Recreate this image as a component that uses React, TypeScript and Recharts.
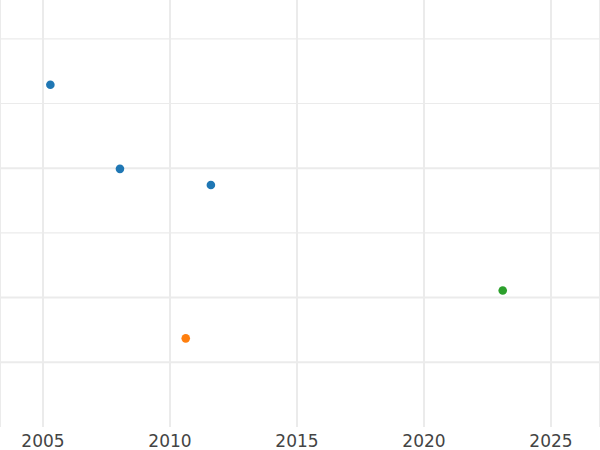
import React from "react";
import { ScatterChart, Scatter, XAxis, YAxis, CartesianGrid, ReferenceLine } from "recharts";

const blueYears = [2005.29, 2008.03, 2011.61];
const blueValues = [5.29, 3.99, 3.74];
const orangeYears = [2010.62];
const orangeValues = [1.37];
const greenYears = [2023.1];
const greenValues = [2.11];
const xTicks = [2005, 2010, 2015, 2020, 2025];
const yGrid = [1, 2, 3, 4, 5, 6];

const toPoints = (xs: number[], ys: number[]) => xs.map((x, i) => ({ x, y: ys[i] }));

const thickLines = new Set([1, 2, 4]);

export default function App() {
  return (
    <div style={{ position: "absolute", left: 0, top: 0 }}>
      <ScatterChart width={600} height={450} margin={{ top: 0, right: 0, bottom: 0, left: 0 }}>
        <CartesianGrid horizontal={false} stroke="#ebebeb" strokeWidth={2} />
        {yGrid.map((v) => (
          <ReferenceLine key={v} y={v} stroke="#ebebeb" strokeWidth={thickLines.has(v) ? 2 : 1.2} ifOverflow="extendDomain" />
        ))}
        <XAxis
          type="number"
          dataKey="x"
          domain={[2003.307, 2026.93]}
          ticks={xTicks}
          allowDataOverflow
          axisLine={false}
          tickLine={false}
          height={23}
          tick={{ fill: "#444", fontSize: 17, fontFamily: "DejaVu Sans" }}
        />
        <YAxis type="number" dataKey="y" domain={[0, 6.6]} ticks={yGrid} allowDataOverflow hide width={0} />
        <Scatter data={toPoints(blueYears, blueValues)} fill="#1f77b4" isAnimationActive={false} shape={(p: any) => <circle cx={p.cx} cy={p.cy} r={4.3} fill="#1f77b4" />} />
        <Scatter data={toPoints(orangeYears, orangeValues)} fill="#ff7f0e" isAnimationActive={false} shape={(p: any) => <circle cx={p.cx} cy={p.cy} r={4.3} fill="#ff7f0e" />} />
        <Scatter data={toPoints(greenYears, greenValues)} fill="#2ca02c" isAnimationActive={false} shape={(p: any) => <circle cx={p.cx} cy={p.cy} r={4.3} fill="#2ca02c" />} />
      </ScatterChart>
    </div>
  );
}
